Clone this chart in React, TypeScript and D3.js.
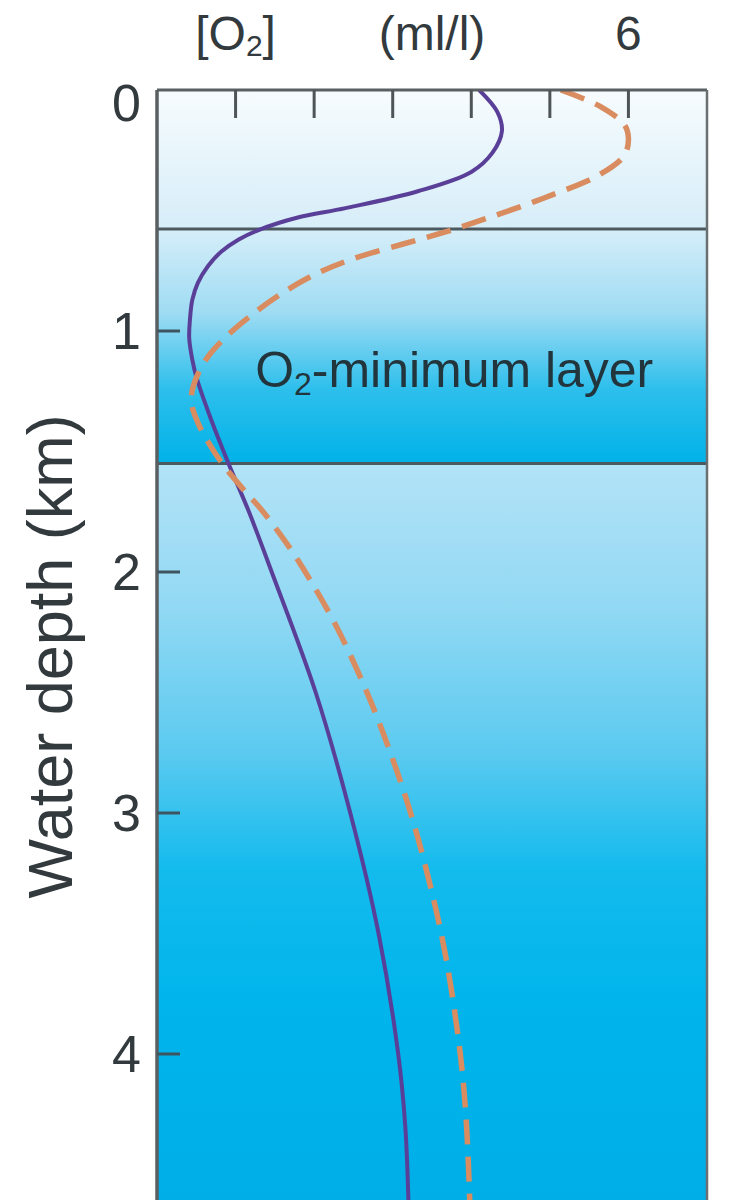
import React from "react";
import * as d3 from "d3";

const purpleDepth = [0.0, 0.09, 0.17, 0.26, 0.34, 0.42, 0.49, 0.53, 0.58, 0.62, 0.67, 0.73, 0.8, 0.87, 0.95, 1.03, 1.12, 1.19, 1.36, 1.55, 1.75, 2.0, 2.5, 3.0, 3.5, 4.0, 4.3, 4.61];
const purpleO2 = [4.1, 4.33, 4.39, 4.27, 4.0, 3.32, 2.4, 1.78, 1.3, 1.04, 0.82, 0.65, 0.52, 0.45, 0.42, 0.41, 0.45, 0.5, 0.68, 0.91, 1.17, 1.46, 2.02, 2.46, 2.82, 3.07, 3.16, 3.2];

const orangeDepth = [0.0, 0.07, 0.145, 0.2, 0.27, 0.35, 0.45, 0.53, 0.59, 0.64, 0.7, 0.77, 0.85, 0.94, 1.03, 1.12, 1.23, 1.3, 1.38, 1.46, 1.55, 1.65, 1.75, 1.9, 2.05, 2.23, 2.46, 2.67, 2.95, 3.2, 3.57, 4.0, 4.3, 4.61];
const orangeO2 = [5.14, 5.65, 5.95, 6.0, 5.95, 5.64, 4.91, 4.22, 3.66, 3.12, 2.5, 1.98, 1.56, 1.18, 0.86, 0.62, 0.46, 0.44, 0.52, 0.65, 0.83, 1.08, 1.35, 1.69, 1.98, 2.29, 2.62, 2.88, 3.18, 3.4, 3.66, 3.86, 3.94, 3.98];

const depthTicks = [0, 1, 2, 3, 4];
const o2Ticks = [1, 2, 3, 4, 5, 6];
const topLabels = [
  { v: 1, t: "O2" },
  { v: 3.5, t: "(ml/l)" },
  { v: 6, t: "6" },
];
const layerBounds = [0.577, 1.55];

const W = 753;
const H = 1200;
const left = 157;
const right = 707;
const top = 90;

export default function App() {
  const x = d3.scaleLinear().domain([0, 7]).range([left, right]);
  const y = d3.scaleLinear().domain([0, 1]).range([top, top + 241]);
  const maxD = y.invert(H);

  const line = d3
    .line<[number, number]>()
    .x((d) => x(d[0]))
    .y((d) => y(d[1]))
    .curve(d3.curveCatmullRom.alpha(0.5));

  const purplePts: [number, number][] = purpleO2.map((v, i) => [v, purpleDepth[i]]);
  const orangePts: [number, number][] = orangeO2.map((v, i) => [v, orangeDepth[i]]);

  const font = "'Liberation Sans', Arial, sans-serif";
  const textColor = "#333a3e";
  const y0 = y(0), y1 = y(layerBounds[0]), y2 = y(layerBounds[1]), y3 = y(maxD);

  return (
    <svg width={W} height={H} style={{ position: "absolute", left: 0, top: 0 }} fontFamily={font}>
      <defs>
        <linearGradient id="g1" x1="0" y1="0" x2="0" y2="1">
          <stop offset="0" stopColor="#f7fcfe" />
          <stop offset="1" stopColor="#d6edf8" />
        </linearGradient>
        <linearGradient id="g2" x1="0" y1="0" x2="0" y2="1">
          <stop offset="0" stopColor="#d6eef9" />
          <stop offset="0.35" stopColor="#a0dcf3" />
          <stop offset="0.68" stopColor="#2ebfec" />
          <stop offset="1" stopColor="#00b2e8" />
        </linearGradient>
        <linearGradient id="g3" x1="0" y1="0" x2="0" y2="1">
          <stop offset="0" stopColor="#b3e3f7" />
          <stop offset="0.19" stopColor="#93d9f4" />
          <stop offset="0.39" stopColor="#5ccaf0" />
          <stop offset="0.55" stopColor="#14bbed" />
          <stop offset="0.73" stopColor="#00b5ec" />
          <stop offset="1" stopColor="#00aee7" />
        </linearGradient>
        <clipPath id="plot">
          <rect x={left} y={top} width={right - left} height={H - top} />
        </clipPath>
      </defs>
      <rect x={left} y={y0} width={right - left} height={y1 - y0} fill="url(#g1)" />
      <rect x={left} y={y1} width={right - left} height={y2 - y1} fill="url(#g2)" />
      <rect x={left} y={y2} width={right - left} height={y3 - y2} fill="url(#g3)" />

      {layerBounds.map((b, i) => (
        <line key={i} x1={left} x2={right} y1={y(b)} y2={y(b)} stroke="#4c5a60" strokeWidth={3} />
      ))}

      <text x={x(1.25)} y={y(1.16)} fontSize={50} fill="#22343c" dominantBaseline="central" textLength={398} lengthAdjust="spacingAndGlyphs">
        O<tspan fontSize={32} dy={14}>2</tspan>
        <tspan dy={-14}>-minimum layer</tspan>
      </text>

      <g clipPath="url(#plot)">
        <path d={line(purplePts) || ""} fill="none" stroke="#5a3f98" strokeWidth={4} />
        <path d={line(orangePts) || ""} fill="none" stroke="#d98c5f" strokeWidth={5.5} strokeDasharray="25 12" />
      </g>

      {/* frame */}
      <line x1={left} x2={right} y1={top} y2={top} stroke="#5a5f62" strokeWidth={3} />
      <line x1={left} x2={left} y1={top} y2={H} stroke="#5a5f62" strokeWidth={3.5} />
      <line x1={right} x2={right} y1={top} y2={H} stroke="#6a6f72" strokeWidth={2.5} />

      {o2Ticks.map((t) => (
        <line key={t} x1={x(t)} x2={x(t)} y1={top} y2={top + 28} stroke="#4f5457" strokeWidth={3} />
      ))}
      {depthTicks.filter((t) => t > 0).map((t) => (
        <line key={t} x1={left} x2={left + 23} y1={y(t)} y2={y(t)} stroke="#3e5560" strokeWidth={3} />
      ))}
      {depthTicks.map((t) => (
        <text key={t} x={141} y={Math.max(y(t), top + 13)} fontSize={52} fill={textColor} textAnchor="end" dominantBaseline="central">
          {t}
        </text>
      ))}

      {topLabels.map((l) =>
        l.t === "O2" ? (
          <text key={l.t} x={x(l.v)} y={33} fontSize={48} fill={textColor} textAnchor="middle" dominantBaseline="central">
            [O<tspan fontSize={30} dy={12}>2</tspan>
            <tspan dy={-12}>]</tspan>
          </text>
        ) : (
          <text key={l.t} x={x(l.v)} y={33} fontSize={48} fill={textColor} textAnchor="middle" dominantBaseline="central">
            {l.t}
          </text>
        )
      )}

      <text
        transform={`translate(50, ${y(2.35)}) rotate(-90)`}
        fontSize={63}
        fill={textColor}
        textAnchor="middle"
        dominantBaseline="central"
      >
        Water depth (km)
      </text>
    </svg>
  );
}
